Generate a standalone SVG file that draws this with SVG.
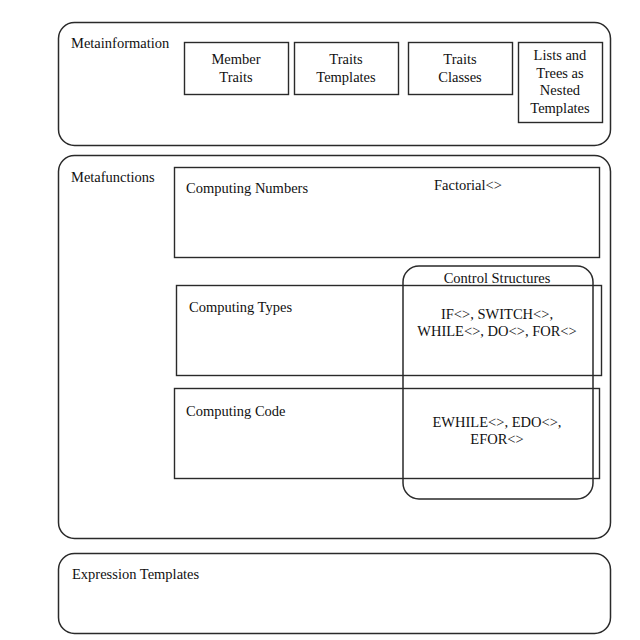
<svg xmlns="http://www.w3.org/2000/svg" width="640" height="640" viewBox="0 0 640 640">
<style>
.frame{fill:none;stroke:#2a2a2a;stroke-width:1.5}
.box{fill:none;stroke:#2a2a2a;stroke-width:1.4}
text{font-family:"Liberation Serif","Times New Roman",serif;font-size:14.5px;fill:#111}
.c{text-anchor:middle}
</style>
<rect width="640" height="640" fill="#ffffff"/>
<g id="metainformation">
<rect class="frame" x="58.5" y="22.5" width="552" height="123" rx="16"/>
<text x="71" y="48">Metainformation</text>
</g>
<g id="member-traits">
<rect class="box" x="184.5" y="42.5" width="104" height="52"/>
<text class="c" x="236" y="64">Member</text>
<text class="c" x="236" y="82">Traits</text>
</g>
<g id="traits-templates">
<rect class="box" x="294.5" y="42.5" width="104" height="52"/>
<text class="c" x="346" y="64">Traits</text>
<text class="c" x="346" y="82">Templates</text>
</g>
<g id="traits-classes">
<rect class="box" x="408.5" y="42.5" width="104" height="52"/>
<text class="c" x="460" y="64">Traits</text>
<text class="c" x="460" y="82">Classes</text>
</g>
<g id="lists-trees">
<rect class="box" x="518.5" y="42.5" width="84" height="80"/>
<text class="c" x="560" y="60">Lists and</text>
<text class="c" x="560" y="78">Trees as</text>
<text class="c" x="560" y="95">Nested</text>
<text class="c" x="560" y="113">Templates</text>
</g>
<g id="metafunctions">
<rect class="frame" x="58.5" y="155.5" width="552" height="383" rx="16"/>
<text x="71" y="182">Metafunctions</text>
</g>
<g id="computing-numbers">
<rect class="box" x="174.5" y="167.5" width="425" height="90"/>
<text x="186" y="193">Computing Numbers</text>
<text x="434" y="190">Factorial&lt;&gt;</text>
</g>
<g id="computing-types">
<rect class="box" x="176.5" y="285.5" width="425" height="90"/>
<text x="189" y="312">Computing Types</text>
</g>
<g id="computing-code">
<rect class="box" x="174.5" y="388.5" width="425" height="90"/>
<text x="186" y="416">Computing Code</text>
</g>
<g id="control-structures">
<rect class="frame" x="403" y="266" width="190" height="233" rx="16"/>
<text class="c" x="497" y="283">Control Structures</text>
<text class="c" x="497" y="319">IF&lt;&gt;, SWITCH&lt;&gt;,</text>
<text class="c" x="497" y="336">WHILE&lt;&gt;, DO&lt;&gt;, FOR&lt;&gt;</text>
<text class="c" x="497" y="427">EWHILE&lt;&gt;, EDO&lt;&gt;,</text>
<text class="c" x="497" y="444">EFOR&lt;&gt;</text>
</g>
<g id="expression-templates">
<rect class="frame" x="58.5" y="553.5" width="552" height="80" rx="16"/>
<text x="72" y="579">Expression Templates</text>
</g>
<g id="connectors"></g>
</svg>
